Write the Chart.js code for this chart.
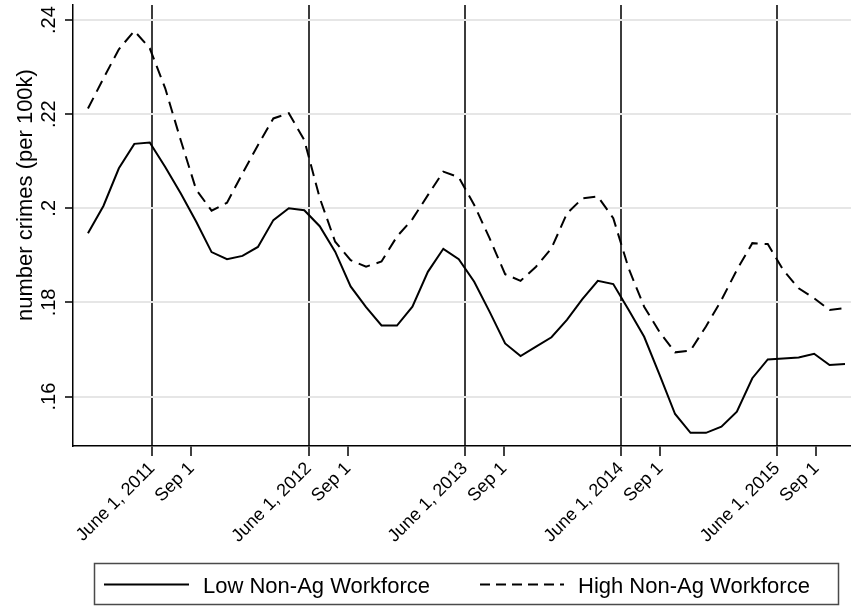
<!DOCTYPE html>
<html>
<head>
<meta charset="utf-8">
<script src="https://cdn.jsdelivr.net/npm/chart.js@4.4.1/dist/chart.umd.min.js"></script>
<style>
  html, body { margin: 0; padding: 0; background: #fff; }
  #wrap { width: 851px; height: 607px; position: relative; }
</style>
</head>
<body>
<div id="wrap"><canvas id="chart" width="851" height="607"></canvas></div>
<script>
// Number of crimes per 100k, one value per reporting period
const lowNonAg = [
  0.1947, 0.2005, 0.2085, 0.2137, 0.2140, 0.2088, 0.2032, 0.1972, 0.1907, 0.1892,
  0.1899, 0.1918, 0.1975, 0.2000, 0.1996, 0.1962, 0.1908, 0.1834, 0.1790, 0.1751,
  0.1751, 0.1791, 0.1865, 0.1914, 0.1892, 0.1844, 0.1780, 0.1713, 0.1686, 0.1706,
  0.1726, 0.1763, 0.1807, 0.1846, 0.1839, 0.1784, 0.1727, 0.1646, 0.1563, 0.1523,
  0.1523, 0.1536, 0.1568, 0.1639, 0.1679, 0.1681, 0.1683, 0.1691, 0.1667, 0.1669
];
const highNonAg = [
  0.2212, 0.2276, 0.2338, 0.2377, 0.2340, 0.2255, 0.2145, 0.2040, 0.1995, 0.2012,
  0.2074, 0.2134, 0.2191, 0.2202, 0.2145, 0.2022, 0.1929, 0.1890, 0.1876, 0.1887,
  0.1940, 0.1977, 0.2028, 0.2078, 0.2066, 0.2007, 0.1936, 0.1860, 0.1846, 0.1876,
  0.1915, 0.1989, 0.2021, 0.2025, 0.1979, 0.1872, 0.1791, 0.1737, 0.1694, 0.1698,
  0.1749, 0.1805, 0.1869, 0.1926, 0.1924, 0.1869, 0.1830, 0.1809, 0.1784, 0.1788
];
const seriesNames = ['Low Non-Ag Workforce', 'High Non-Ag Workforce'];

// Periods are evenly spaced between the first and the last period date
const firstPeriod = '2011-01-02';
const lastPeriod = '2015-11-07';
const axisStart = '2010-11-28';
const axisEnd = '2015-11-21';

const xTickDates = [
  '2011-06-01', '2011-09-01', '2012-06-01', '2012-09-01', '2013-06-01',
  '2013-09-01', '2014-06-01', '2014-09-01', '2015-06-01', '2015-09-01'
];
const xTickLabels = [
  'June 1, 2011', 'Sep 1', 'June 1, 2012', 'Sep 1', 'June 1, 2013',
  'Sep 1', 'June 1, 2014', 'Sep 1', 'June 1, 2015', 'Sep 1'
];
const yTickValues = [0.16, 0.18, 0.20, 0.22, 0.24];
const yTickLabels = ['.16', '.18', '.2', '.22', '.24'];
const yTitle = 'number crimes (per 100k)';

const FONT = "'Liberation Sans', Arial, Helvetica, sans-serif";
const DAY_MS = 86400000;
const EPOCH = Date.UTC(2011, 0, 1);
const toDay = s => (Date.parse(s + 'T00:00:00Z') - EPOCH) / DAY_MS;

const d0 = toDay(firstPeriod);
const step = (toDay(lastPeriod) - d0) / (lowNonAg.length - 1);
const toPoints = arr => arr.map((v, i) => ({ x: d0 + i * step, y: v }));
const isJune = i => (xTickLabels[i] || '').startsWith('June');

// Rotated y tick labels, y-axis title and the boxed legend
const decorations = {
  id: 'decorations',
  afterDraw(chart) {
    const ctx = chart.ctx;
    const y = chart.scales.y;
    ctx.save();
    ctx.fillStyle = '#000';

    ctx.font = '20px ' + FONT;
    ctx.textAlign = 'center';
    ctx.textBaseline = 'alphabetic';
    yTickValues.forEach((v, i) => {
      ctx.save();
      ctx.translate(54.5, y.getPixelForValue(v));
      ctx.rotate(-Math.PI / 2);
      ctx.fillText(yTickLabels[i], 0, 0);
      ctx.restore();
    });

    ctx.font = '22px ' + FONT;
    ctx.save();
    ctx.translate(31.5, 195);
    ctx.rotate(-Math.PI / 2);
    ctx.fillText(yTitle, 0, 0);
    ctx.restore();

    // legend box
    ctx.strokeStyle = '#4a4a4a';
    ctx.lineWidth = 1.5;
    ctx.strokeRect(94.5, 563.5, 744, 41);

    ctx.strokeStyle = '#000';
    ctx.lineWidth = 2;
    ctx.beginPath();
    ctx.moveTo(104, 584.5);
    ctx.lineTo(189, 584.5);
    ctx.stroke();

    ctx.setLineDash([10, 6]);
    ctx.beginPath();
    ctx.moveTo(480, 584.5);
    ctx.lineTo(564, 584.5);
    ctx.stroke();
    ctx.setLineDash([]);

    ctx.textAlign = 'left';
    ctx.fillText(seriesNames[0], 203, 592.5);
    ctx.fillText(seriesNames[1], 578, 592.5);
    ctx.restore();
  }
};

new Chart(document.getElementById('chart'), {
  type: 'line',
  data: {
    datasets: [
      {
        label: seriesNames[0],
        data: toPoints(lowNonAg),
        borderColor: '#000',
        borderWidth: 2,
        pointRadius: 0,
        tension: 0,
        fill: false
      },
      {
        label: seriesNames[1],
        data: toPoints(highNonAg),
        borderColor: '#000',
        borderWidth: 2,
        borderDash: [12, 7],
        pointRadius: 0,
        tension: 0,
        fill: false
      }
    ]
  },
  options: {
    responsive: false,
    animation: false,
    layout: { padding: { top: 5, left: 0, right: 0, bottom: 0 } },
    plugins: { legend: { display: false }, tooltip: { enabled: false } },
    scales: {
      x: {
        type: 'linear',
        min: toDay(axisStart),
        max: toDay(axisEnd),
        afterBuildTicks: s => { s.ticks = xTickDates.map(d => ({ value: toDay(d) })); },
        afterFit: s => { s.height = 161; },
        ticks: {
          autoSkip: false,
          minRotation: 45,
          maxRotation: 45,
          padding: 2,
          color: '#000',
          font: { family: FONT, size: 18 },
          callback: (v, i) => xTickLabels[i]
        },
        grid: {
          drawOnChartArea: true,
          color: c => isJune(c.index) ? '#3c3c3c' : 'rgba(0,0,0,0)',
          lineWidth: c => isJune(c.index) ? 2 : 0,
          tickColor: '#000',
          tickWidth: 1.5,
          tickLength: 10
        },
        border: { display: true, color: '#000', width: 1.5 }
      },
      y: {
        type: 'linear',
        min: 0.1495,
        max: 0.2432,
        afterBuildTicks: s => { s.ticks = yTickValues.map(v => ({ value: v })); },
        afterFit: s => { s.width = 73; },
        ticks: { display: false },
        grid: {
          color: '#e6e6e6',
          lineWidth: 2,
          tickColor: '#000',
          tickWidth: 1.5,
          tickLength: 8
        },
        border: { display: true, color: '#000', width: 1.5 }
      }
    }
  },
  plugins: [decorations]
});
</script>
</body>
</html>
